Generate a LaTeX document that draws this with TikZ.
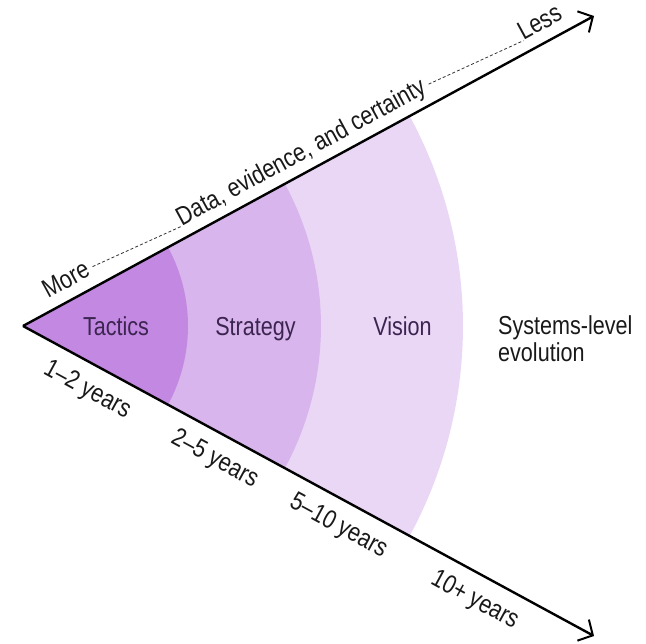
\documentclass[tikz,border=0pt]{standalone}
\usepackage{fontspec}
\setmainfont[FakeStretch=0.83]{Liberation Sans}
\usetikzlibrary{arrows.meta}
\definecolor{tacticsfill}{RGB}{195,136,226}
\definecolor{strategyfill}{RGB}{216,181,236}
\definecolor{visionfill}{RGB}{234,215,246}
\definecolor{labelpurple}{RGB}{60,36,80}
\definecolor{axistext}{RGB}{25,25,25}
\tikzset{
  axisline/.style={line width=2.4pt, draw=black, -{Straight Barb[length=11pt,width=24pt,line width=2pt]}},
  axislabel/.style={inner sep=0pt, text=axistext, font=\fontsize{26}{31}\selectfont},
  regionlabel/.style={inner sep=0pt, text=labelpurple, font=\fontsize{26}{31}\selectfont},
  outerlabel/.style={inner sep=0pt, text=axistext, font=\fontsize{26}{31}\selectfont},
  dashline/.style={draw=black!80, line width=0.8pt, dash pattern=on 3pt off 2.2pt}
}
\begin{document}
\begin{tikzpicture}[x=1pt,y=1pt]
\useasboundingbox (0,-644) rectangle (646,0);
\coordinate (O) at (23,-326);
\coordinate (A) at (594,-16);
\coordinate (B) at (594,-636);
% regions
\fill[visionfill] (O) -- ++(28.5:440) arc[start angle=28.5,end angle=-28.5,radius=440] -- cycle;
\fill[strategyfill] (O) -- ++(28.5:298) arc[start angle=28.5,end angle=-28.5,radius=298] -- cycle;
\fill[tacticsfill] (O) -- ++(28.5:165) arc[start angle=28.5,end angle=-28.5,radius=165] -- cycle;
% region labels
\node[regionlabel, anchor=base] (tactics) at (116,-336) {Tactics};
\node[regionlabel, anchor=base] (strategy) at (255.5,-336) {Strategy};
\node[regionlabel, anchor=base] (vision) at (402.5,-336) {Vision};
\node[outerlabel, anchor=base west] (sys1) at (498,-335) {Systems-level};
\node[outerlabel, anchor=base west] (sys2) at (498,-362) {evolution};
% axes
\draw[axisline] (O) -- (A);
\draw[axisline] (O) -- (B);
% upper labels
\begin{scope}[shift={(O)}, rotate=28.5, transform shape]
  \node[axislabel, anchor=base west] (more) at (35,12) {More};
  \node[axislabel, anchor=base west] (data) at (187,12) {Data, evidence, and certainty};
  \node[axislabel, anchor=base west] (less) at (576,12) {Less};
  \draw[dashline] (more.base east) ++(5,7) coordinate (d1s) -- (data.base west) ++(-4,7) coordinate (d1e);
  \draw[dashline] (data.base east) ++(5,7) coordinate (d2s) -- (less.base west) ++(-4,7) coordinate (d2e);
\end{scope}
% lower labels
\begin{scope}[shift={(O)}, rotate=-28.5, transform shape]
  \node[axislabel] (y1) at (87,-26) {1–2 years};
  \node[axislabel] (y2) at (232,-26) {2–5 years};
  \node[axislabel] (y3) at (373,-26) {5–10 years};
  \node[axislabel] (y4) at (528,-26) {10+ years};
\end{scope}
\end{tikzpicture}
\end{document}
